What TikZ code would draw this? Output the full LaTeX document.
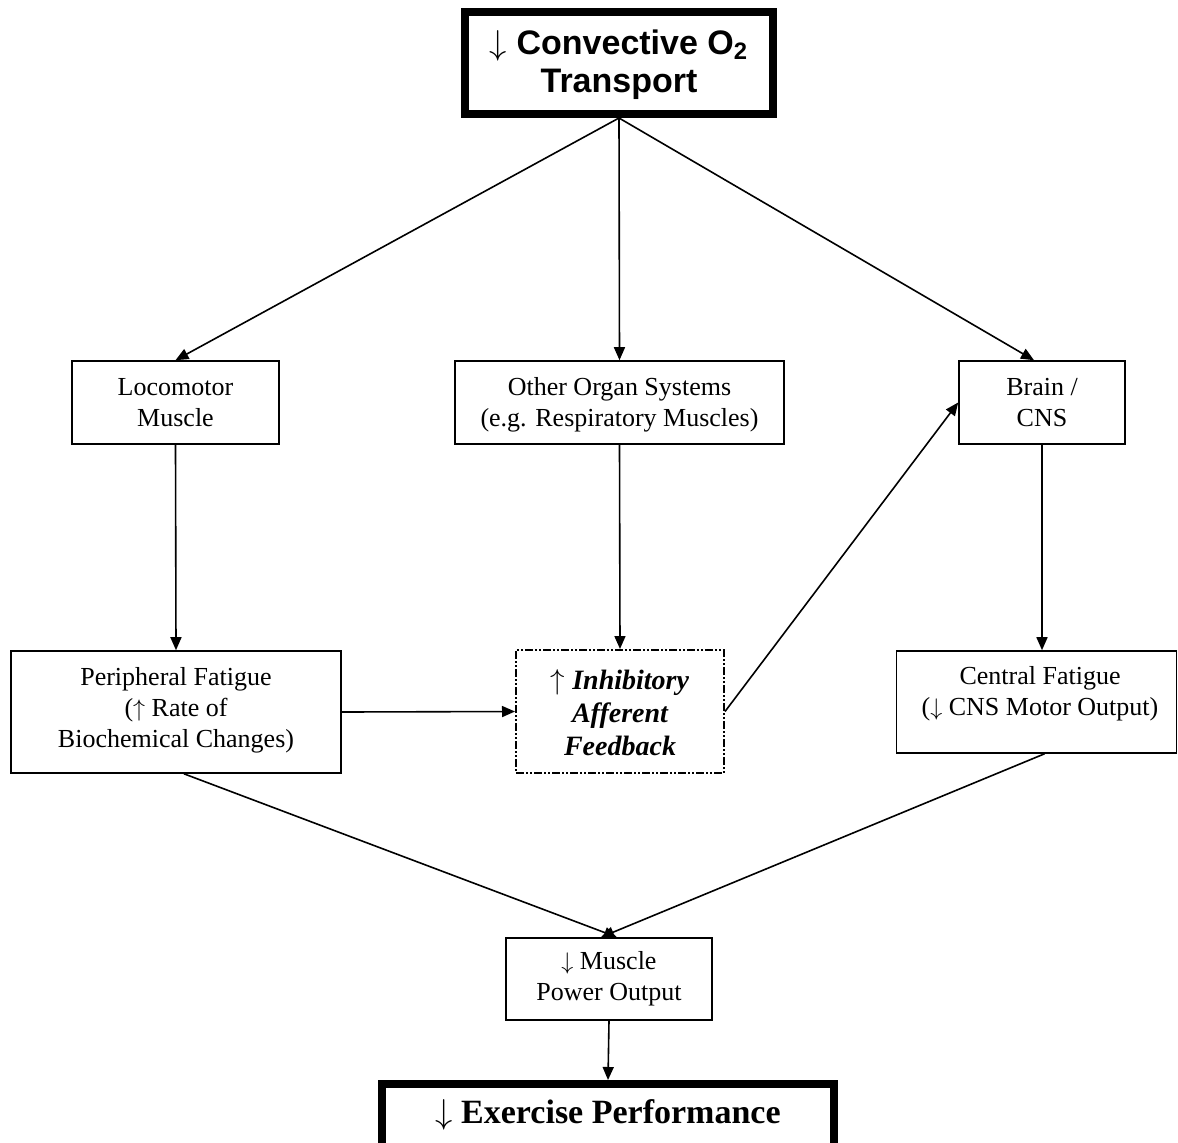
\documentclass[tikz,border=0pt]{standalone}
\usepackage{fontspec}
\setmainfont{Liberation Serif}
\newfontfamily\arialfont{Liberation Sans}
\usetikzlibrary{arrows.meta}
\begin{document}
\begin{tikzpicture}[x=0.5pt,y=-0.5pt,
  box/.style={draw,line width=0.8pt,align=center,inner sep=0pt,font=\fontsize{13}{15.5}\selectfont},
  thickbox/.style={draw,line width=4pt,align=center,inner sep=0pt},
  txt/.style={align=center,inner sep=0pt,font=\fontsize{13}{15.5}\selectfont},
  arr/.style={line width=0.8pt,-{Triangle[length=6.5pt,width=5.5pt]}}]
\useasboundingbox (0,0) rectangle (1178,1142);
\node[thickbox,minimum width=154pt,minimum height=51pt] (top) at (619,63) {};
\node[txt,font=\arialfont\bfseries\fontsize{17}{19}\selectfont] (topt) at (619,65) {$\downarrow$ Convective O\textsubscript{2}\\Transport};
\node[box,minimum width=103.5pt,minimum height=41.5pt] (loco) at (175.5,402.5) {Locomotor\\Muscle};
\node[box,minimum width=164.5pt,minimum height=41.5pt] (other) at (619.5,402.5) {};
\node[txt] (othert) at (619.5,405) {Other Organ Systems\\(e.g. Respiratory Muscles)};
\node[box,minimum width=83pt,minimum height=41.5pt] (brain) at (1042,402.5) {Brain /\\CNS};
\node[box,minimum width=165pt,minimum height=61pt] (peri) at (176,712) {};
\node[txt] (perit) at (176,710) {Peripheral Fatigue\\($\uparrow$ Rate of\\Biochemical Changes)};
\node[box,minimum width=104pt,minimum height=61.5pt,line width=1pt,dash pattern=on 4pt off 1pt on 1pt off 1pt on 1pt off 1pt] (inhib) at (620,711.5) {};
\node[txt,font=\bfseries\itshape\fontsize{14}{16.5}\selectfont] (inhibt) at (620,713) {$\uparrow$ Inhibitory\\Afferent\\Feedback};
\node[box,minimum width=140pt,minimum height=51pt] (central) at (1036.5,702) {};
\node[txt] (centralt) at (1040,694) {Central Fatigue\\($\downarrow$ CNS Motor Output)};
\node[box,minimum width=103pt,minimum height=41pt] (power) at (609,979) {$\downarrow$ Muscle\\Power Output};
\node[thickbox,minimum width=226pt,minimum height=42pt] (perf) at (608,1126) {};
\node[txt,font=\bfseries\fontsize{17}{19}\selectfont] (perft) at (608,1115) {$\downarrow$ Exercise Performance};
\draw[arr] (top.south) -- (loco.north);
\draw[arr] (top.south) -- (other.north);
\draw[arr] (top.south) -- ([xshift=-4]brain.north);
\draw[arr] (loco.south) -- (peri.north);
\draw[arr] (other.south) -- (inhib.north);
\draw[arr] (brain.south) -- (central.north -| brain.south);
\draw[arr] (peri.east) -- (inhib.west);
\draw[arr] (inhib.east) -- (brain.west);
\draw[arr] ([xshift=4]peri.south) -- ([xshift=4]power.north);
\draw[arr] ([xshift=4]central.south) -- ([xshift=-4]power.north);
\draw[arr] (power.south) -- (perf.north);
\end{tikzpicture}
\end{document}
